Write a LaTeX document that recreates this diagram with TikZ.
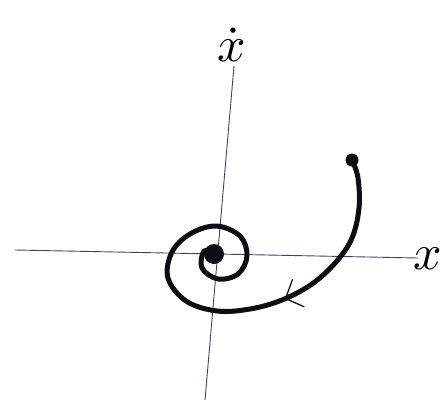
\documentclass[tikz,border=0pt]{standalone}
\usepackage{amsmath}
\usepackage{graphicx}
\usetikzlibrary{arrows.meta, decorations.markings}
\definecolor{axisgray}{RGB}{70,62,105}
\definecolor{inkblack}{RGB}{15,12,20}
\newcommand{\biglab}[1]{\scalebox{5}{#1}}

\begin{document}
\begin{tikzpicture}[
      x=1pt, y=-1pt,
      axis/.style={draw=axisgray, line width=0.9pt},
      traj/.style={draw=inkblack, line width=5pt, line cap=round, line join=round},
      flowarrow/.style={postaction={decorate, decoration={markings,
          mark=at position 0.33 with {\arrow[inkblack, line width=1.3pt]{Straight Barb[length=14pt, width=30pt]}}}}},
      dotmark/.style={circle, fill=inkblack, inner sep=0pt, minimum size=#1},
      axislab/.style={inner sep=0pt, anchor=south}
  ]
    \useasboundingbox (0,0) rectangle (442,402);

    % axes
    \coordinate (xl) at (15,250);
    \coordinate (xr) at (418,258);
    \coordinate (yt) at (234,66);
    \coordinate (yb) at (205,400);
    \draw[axis] (xl) -- (xr);
    \draw[axis] (yt) -- (yb);

    \node[axislab] (xlab) at (428,270) {\biglab{$x$}};
    \node[axislab] (ylab) at (232,62) {\biglab{$\dot{x}$}};

    % trajectory
    \node[dotmark=13pt] (start) at (352,160) {};
    \node[dotmark=20pt] (origin) at (214,254) {};
    \draw[traj, flowarrow] plot[smooth, tension=0.6] coordinates {
        (352,160) (358,178) (359,208) (352,238) (336,262) (312,284)
        (282,300) (250,309) (217,311) (186,301) (168,278) (172,252)
        (190,234) (216,226) (240,236) (247,256) (238,274) (218,279)
        (202,268) (204,251) (214,254)};
\end{tikzpicture}
\end{document}
